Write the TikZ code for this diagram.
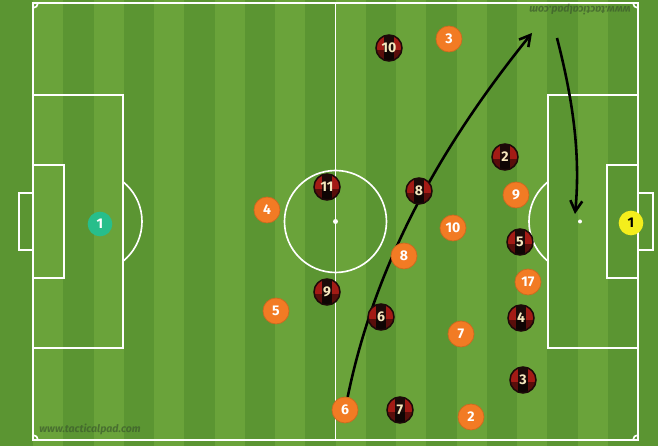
\documentclass[tikz,border=0pt]{standalone}
\usepackage{fontspec}
\setmainfont{Fira Sans}
\usetikzlibrary{arrows.meta}

\definecolor{grasslight}{HTML}{6AA33A}
\definecolor{grassdark}{HTML}{5B9532}
\definecolor{milanred}{HTML}{A31B15}
\definecolor{milandark}{HTML}{1C0A09}
\definecolor{awayorange}{HTML}{F27B24}
\definecolor{keepergreen}{HTML}{27BE8B}
\definecolor{keeperyellow}{HTML}{F4EE1C}
\definecolor{shirtnum}{HTML}{F6E7BE}
\definecolor{markgrey}{HTML}{3B5A2C}

\pgfdeclarelayer{front}
\pgfsetlayers{main,front}

\begin{document}
\begin{tikzpicture}[x=0.3mm, y=0.3mm,
	pitchline/.style={draw=white, line width=1.4pt},
	player/.style={circle, minimum size=7.8mm, inner sep=0pt, font=\bfseries\fontsize{12}{12}\selectfont},
	milan/.style={player, fill=milanred, draw=milandark, line width=1.3pt, text=shirtnum, path picture={
		\fill[milandark] (path picture bounding box.center) ++(-5,-13) rectangle ++(10,26);
		\fill[black, opacity=0.45] (path picture bounding box.center) ++(-13,-13) rectangle ++(26,11);}},
	away/.style={player, fill=awayorange, draw=awayorange!85!black, line width=0.6pt, text=white},
	keeper/.style={player, minimum size=7.4mm},
	run/.style={draw=black, line width=2.2pt, -{Straight Barb[length=3.2mm, width=3.6mm]}},
	watermark/.style={text=markgrey, opacity=0.7, font=\itshape\bfseries\fontsize{9}{9}\selectfont}]
	\useasboundingbox (0,0) rectangle (658,446);

	% Grass stripes
	\fill[grassdark] (0,0) rectangle (658,446);
	\foreach \k in {0,...,9}
		\fill[grasslight] ({33+60.5*\k},0) rectangle ++(30.25,446);

	% Outer lines, halfway line, centre circle
	\draw[pitchline] (33,6) rectangle (638,443);
	\draw[pitchline] (335.5,6) -- (335.5,443);
	\draw[pitchline] (335.5,224.5) circle (51);
	\fill[white] (335.5,224.5) circle (2.5);

	% Left end
	\draw[pitchline] (33,98) rectangle (123,351);
	\draw[pitchline] (33,168) rectangle (64,281);
	\draw[pitchline] (19,196) rectangle (33,253);
	\fill[white] (91,224.5) circle (2);
	\begin{scope}
		\clip (123,0) rectangle (200,446);
		\draw[pitchline] (91,224.5) circle (51);
	\end{scope}

	% Right end
	\draw[pitchline] (548,98) rectangle (638,351);
	\draw[pitchline] (607,168) rectangle (638,281);
	\draw[pitchline] (638,196) rectangle (653,253);
	\fill[white] (580,224.5) circle (2);
	\begin{scope}
		\clip (470,0) rectangle (548,446);
		\draw[pitchline] (580,224.5) circle (51);
	\end{scope}

	% Corner arcs
	\draw[pitchline] (33,11) arc (90:0:5);
	\draw[pitchline] (38,443) arc (0:-90:5);
	\draw[pitchline] (633,443) arc (180:270:5);
	\draw[pitchline] (633,6) arc (180:90:5);

	% Watermarks
	\node[watermark] (markbottom) at (90,17) {www.tacticalpad.com};
	\node[watermark, rotate=180] (marktop) at (580,436) {www.tacticalpad.com};

	\begin{pgfonlayer}{front}
		% Keepers
		\node[keeper, fill=keepergreen, text=white] (gkleft) at (100,222) {1};
		\node[keeper, fill=keeperyellow, text=black] (gkright) at (631,223) {1};

		% Red and black side
		\node[milan] (m10) at (389,398) {10};
		\node[milan] (m11) at (327,259) {11};
		\node[milan] (m8) at (419,255) {8};
		\node[milan] (m2) at (505,289) {2};
		\node[milan] (m5) at (520,204) {5};
		\node[milan] (m9) at (327,154) {9};
		\node[milan] (m6) at (381,129) {6};
		\node[milan] (m4) at (521,128) {4};
		\node[milan] (m3) at (523,66) {3};
		\node[milan] (m7) at (400,36) {7};

		% Orange side
		\node[away] (o3) at (449,407) {3};
		\node[away] (o4) at (267,236) {4};
		\node[away] (o9) at (516,251) {9};
		\node[away] (o10) at (453,218) {10};
		\node[away] (o8) at (404,190) {8};
		\node[away] (o17) at (528,164) {17};
		\node[away] (o5) at (276,135) {5};
		\node[away] (o7) at (461,112) {7};
		\node[away] (o6) at (345,36) {6};
		\node[away] (o2) at (471,29) {2};
	\end{pgfonlayer}

	% Runs
	\coordinate (crossend) at (532,413);
	\coordinate (driftstart) at (557,408);
	\coordinate (driftend) at (575,232);
	\draw[run] (o6) .. controls (376,187) and (444,304) .. (crossend);
	\draw[run] (driftstart) .. controls (572,350) and (581,293) .. (driftend);
\end{tikzpicture}
\end{document}
